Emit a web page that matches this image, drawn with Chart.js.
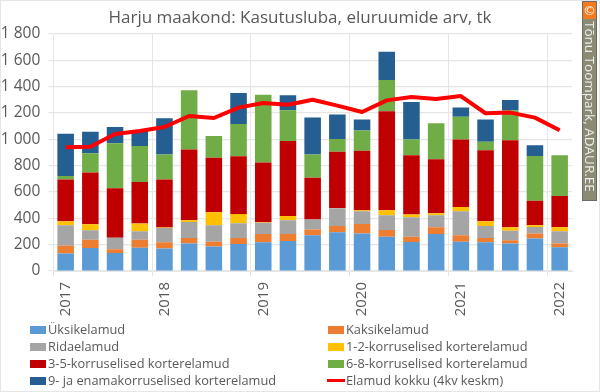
<!DOCTYPE html>
<html>
<head>
<meta charset="utf-8">
<script src="https://cdn.jsdelivr.net/npm/chart.js@4"></script>
<style>
    html, body { margin: 0; padding: 0; background: #fff; }
    #wrap { position: relative; width: 600px; height: 392px; overflow: hidden; }
    #frame { position: absolute; left: 0; top: 0; width: 600px; height: 392px; border: 1px solid #e6e6e6; box-sizing: border-box; }
    #mark { position: absolute; left: 582px; top: 1px; width: 15px; height: 200px; background: #8b8b73; border: 1px solid #6b6b6b; box-sizing: border-box; }
    #markIcon { position: absolute; left: 583px; top: 2px; width: 13px; height: 17px; background: #f47a1f; color: #fff; font: 13px "DejaVu Sans"; text-align: center; line-height: 17px; }
    #markText { position: absolute; left: 583px; top: 21px; width: 13px; height: 178px; writing-mode: vertical-rl; color: #eeeeee; font: 13.5px "Open Sans"; line-height: 13px; white-space: nowrap; }
</style>
</head>
<body>
<div id="wrap">
    <canvas id="barChart" width="600" height="392"></canvas>
    <div id="frame"></div>
    <div id="mark"></div>
    <div id="markIcon">©</div>
    <div id="markText">Tõnu Toompark, ADAUR.EE</div>
</div>
<script>
const titleText = 'Harju maakond: Kasutusluba, eluruumide arv, tk';
// one label per quarter, only the first quarter of a year is printed
const quarters = ['2017', '', '', '', '2018', '', '', '', '2019', '', '', '', '2020', '', '', '', '2021', '', '', '', '2022'];
const yTicks = [0, 200, 400, 600, 800, 1000, 1200, 1400, 1600, 1800];

const yksik = [132, 175, 137, 177, 170, 208, 187, 205, 218, 228, 271, 294, 284, 261, 220, 281, 223, 218, 208, 246, 180];
const kaksik = [60, 63, 28, 61, 48, 43, 36, 46, 63, 53, 45, 48, 73, 50, 41, 51, 48, 33, 25, 38, 28];
const rida = [155, 71, 88, 63, 109, 121, 124, 111, 86, 104, 76, 134, 96, 112, 147, 91, 182, 91, 73, 50, 93];
const k12 = [30, 46, 0, 59, 4, 13, 99, 71, 3, 33, 0, 2, 8, 38, 22, 15, 33, 35, 26, 13, 31];
const k35 = [317, 394, 375, 316, 363, 537, 415, 438, 455, 569, 317, 428, 453, 752, 449, 410, 512, 540, 661, 187, 238];
const k68 = [27, 145, 342, 273, 190, 450, 164, 246, 514, 233, 175, 96, 154, 238, 119, 274, 174, 65, 227, 340, 309];
const k9 = [322, 164, 124, 119, 276, 0, 0, 235, 0, 114, 281, 187, 82, 215, 286, 0, 69, 168, 79, 81, 0];
const kokku = [939, 944, 1041, 1063, 1094, 1177, 1162, 1241, 1276, 1263, 1301, 1256, 1208, 1296, 1322, 1307, 1329, 1198, 1203, 1165, 1069];

const textColor = '#595959';
const gridColor = '#e6e6e6';
const fontName = '"Open Sans"';

function barSet(label, data, color) {
    return { type: 'bar', label: label, data: data, backgroundColor: color, borderColor: 'rgba(255,255,255,0)', order: 2 };
}

// title centred on the page (not the plot) and legend in two fixed columns, filled row by row
const pageText = {
    id: 'pageText',
    afterDraw(chart) {
        const c = chart.ctx;
        const cols = [30, 328];
        const rows = [330, 347, 364, 381];
        c.save();
        c.textBaseline = 'middle';
        c.textAlign = 'center';
        c.fillStyle = textColor;
        c.font = '17px ' + fontName;
        c.fillText(titleText, 300, 18);
        c.textAlign = 'left';
        c.font = '12.8px ' + fontName;
        chart.data.datasets.forEach((ds, i) => {
            const x = cols[i % 2];
            const y = rows[Math.floor(i / 2)];
            if (ds.type === 'line') {
                c.fillStyle = ds.borderColor;
                c.fillRect(x - 1, y - 2, 18, 3);
            } else {
                c.fillStyle = ds.backgroundColor;
                c.fillRect(x, y - 4, 16, 8);
            }
            c.fillStyle = textColor;
            c.fillText(ds.label, x + 18, y);
        });
        c.restore();
    }
};

const ctx = document.getElementById('barChart').getContext('2d');
new Chart(ctx, {
    data: {
        labels: quarters,
        datasets: [
            barSet('Üksikelamud', yksik, '#5b9bd5'),
            barSet('Kaksikelamud', kaksik, '#ed7d31'),
            barSet('Ridaelamud', rida, '#a5a5a5'),
            barSet('1-2-korruselised korterelamud', k12, '#ffc000'),
            barSet('3-5-korruselised korterelamud', k35, '#c00000'),
            barSet('6-8-korruselised korterelamud', k68, '#70ad47'),
            barSet('9- ja enamakorruselised korterelamud', k9, '#255e91'),
            { type: 'line', label: 'Elamud kokku (4kv keskm)', data: kokku, borderColor: '#ff0000', borderWidth: 4, borderJoinStyle: 'round', pointRadius: 0, tension: 0, order: 1 }
        ]
    },
    options: {
        responsive: false,
        animation: false,
        layout: { padding: { left: 0, right: 28, top: 34, bottom: 0 } },
        datasets: { bar: { categoryPercentage: 1, barPercentage: 0.67 } },
        plugins: {
            legend: { display: false },
            tooltip: { enabled: false }
        },
        scales: {
            x: {
                stacked: true,
                offset: true,
                afterFit(scale) { scale.height = 121; },
                border: { color: gridColor },
                grid: {
                    offset: true,
                    tickLength: 5,
                    color: c => (c.index % 4 === 0 ? gridColor : 'rgba(0,0,0,0)'),
                    tickColor: c => (c.index % 4 === 0 ? gridColor : 'rgba(0,0,0,0)')
                },
                ticks: {
                    autoSkip: false,
                    minRotation: 90,
                    maxRotation: 90,
                    padding: 6,
                    color: textColor,
                    font: { family: fontName, size: 15 }
                }
            },
            y: {
                stacked: true,
                min: 0,
                max: 1800,
                afterFit(scale) { scale.width = 53.3; },
                afterBuildTicks(scale) { scale.ticks = yTicks.map(v => ({ value: v })); },
                border: { color: gridColor },
                grid: { color: gridColor, tickLength: 5, tickColor: gridColor, lineWidth: 1.2 },
                ticks: {
                    padding: 8,
                    color: textColor,
                    font: { family: fontName, size: 15.5 },
                    callback: v => String(v).replace(/\B(?=(\d{3})+$)/, ' ')
                }
            }
        }
    },
    plugins: [pageText]
});
</script>
</body>
</html>
